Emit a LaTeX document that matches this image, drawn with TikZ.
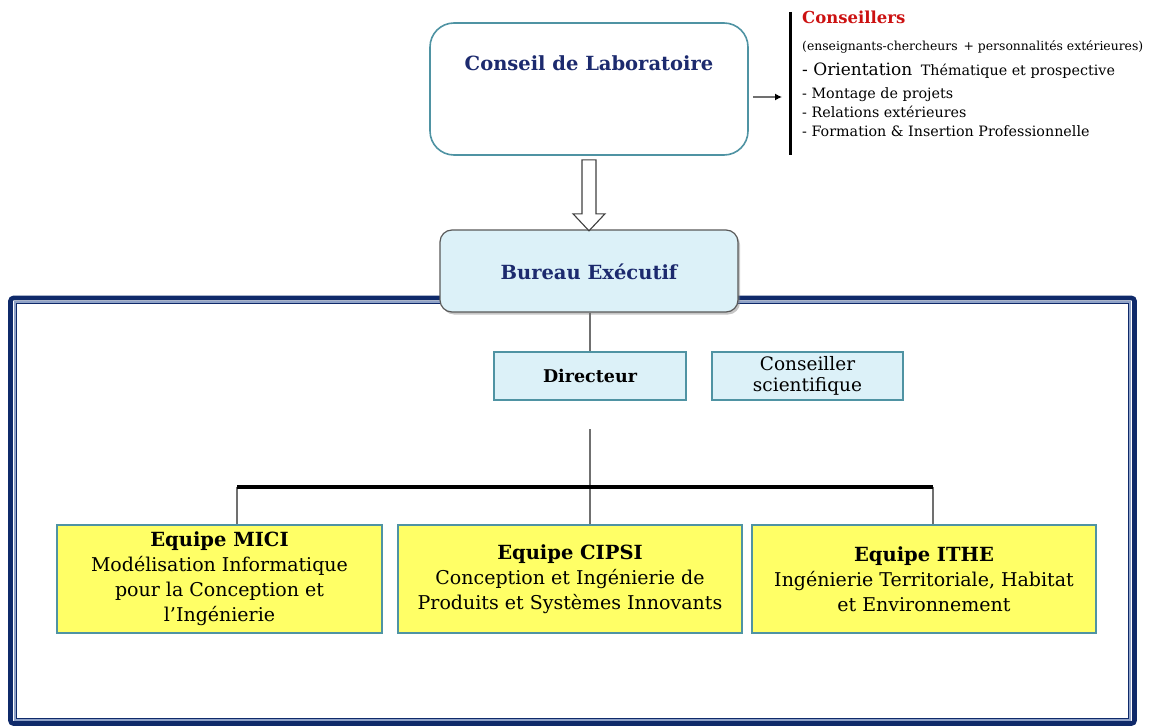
\documentclass[tikz,border=0pt]{standalone}
\usepackage{fontspec}
\setmainfont{DejaVu Serif}
\usetikzlibrary{shadows,arrows.meta,calc}

\definecolor{navytxt}{HTML}{1C2A6E}
\definecolor{framenavy}{HTML}{0F2A6A}
\definecolor{framelight}{HTML}{8FA2C8}
\definecolor{tealline}{HTML}{4F93A3}
\definecolor{paleblue}{HTML}{DCF1F8}
\definecolor{teamyellow}{HTML}{FFFF66}
\definecolor{linkgrey}{HTML}{707070}
\definecolor{redtitle}{HTML}{CC1111}

\tikzset{
  px/.style={x=1pt,y=-1pt},
  topbox/.style={draw=tealline, line width=1.6pt, rounded corners=24pt, fill=white,
    minimum width=318pt, minimum height=132pt, inner sep=0pt},
  bureaubox/.style={draw=black!65, line width=1.2pt, rounded corners=12pt, fill=paleblue,
    minimum width=298pt, minimum height=82pt, inner sep=0pt,
    drop shadow={shadow xshift=2pt, shadow yshift=-2.5pt, opacity=0.45}},
  rolebox/.style={draw=tealline, line width=1.3pt, fill=paleblue,
    minimum height=48pt, inner sep=0pt, align=center},
  teambox/.style={draw=tealline, line width=1.3pt, fill=teamyellow,
    minimum height=108pt, inner sep=0pt, align=center, font=\fontsize{19}{25}\selectfont},
  headtxt/.style={text=navytxt, font=\bfseries\fontsize{19.5}{22}\selectfont},
  link/.style={draw=linkgrey, line width=2.4pt},
  bar/.style={draw=black, line width=3.6pt},
  side/.style={anchor=base west, inner sep=0pt, font=\fontsize{14.3}{17}\selectfont},
}
\newcommand{\teamtitle}[1]{{\bfseries\fontsize{19.5}{25}\selectfont #1}}

\begin{document}
\begin{tikzpicture}[px]
\useasboundingbox (0,0) rectangle (1153,725);

% outer double frame around the laboratory units
\begin{scope}
\clip (0,0) rectangle (1153,725);
\draw[framenavy, line width=4.6pt, rounded corners=3pt] (10.5,298) rectangle (1134.5,723.5);
\draw[framelight, line width=1.6pt] (14.8,301.8) rectangle (1130.2,720);
\draw[framenavy, line width=0.9pt] (16.5,303.2) rectangle (1128.5,718.5);
\end{scope}

% council
\node[topbox] (conseil) at (589,89) {};
\node[headtxt] (conseiltxt) at (589,63) {Conseil de Laboratoire};

% advisers column
\coordinate (barTop) at (790,12);
\coordinate (barBot) at (790,155);
\draw[black, line width=3pt] (barTop) -- (barBot);
\coordinate (advIn) at (782,97);
\draw[draw=linkgrey, line width=1.2pt, -{Latex[length=7pt,width=7pt,color=black]}]
  (conseil.east |- advIn) ++(4,0) -- (advIn);
\node[side, text=redtitle, font=\bfseries\fontsize{16.5}{18}\selectfont] (advTitle) at (802,24) {Conseillers};
\node[side, font=\fontsize{12.4}{14}\selectfont] (advSub) at (802,51)
  {(enseignants-chercheurs \,+ personnalités extérieures)};
\node[side] (advA) at (802,75)
  {{\fontsize{17}{18}\selectfont - Orientation}\; Thématique et prospective};
\node[side] (advB) at (802,98) {- Montage de projets};
\node[side] (advC) at (802,117) {- Relations extérieures};
\node[side] (advD) at (802,136) {- Formation \& Insertion Professionnelle};

% executive board and the hollow arrow above it
\node[bureaubox] (bureau) at (589,271) {};
\node[headtxt] (bureautxt) at (589,272) {Bureau Exécutif};
\draw[black!75, line width=1.1pt, fill=white]
  ($(conseil.south)+(-7,4)$) -- ++(0,54) -- ++(-9,0) -- ++(16,17) -- ++(16,-17) -- ++(-9,0) -- ++(0,-54) -- cycle;

% direction
\node[rolebox, minimum width=192pt, font=\bfseries\fontsize{17.5}{20}\selectfont] (dir) at (590,376) {Directeur};
\node[rolebox, minimum width=191pt, font=\fontsize{18.5}{21.5}\selectfont] (cs) at (807.5,376) {Conseiller\\scientifique};
\draw[link] (bureau.south -| dir.north) -- (dir.north);

% teams
\node[teambox, minimum width=325pt] (mici) at (219.5,579)
  {\teamtitle{Equipe MICI}\\
   Modélisation Informatique\\
   pour la Conception et\\
   l’Ingénierie};
\node[teambox, minimum width=344pt] (cipsi) at (570,579)
  {\teamtitle{Equipe CIPSI}\\
   Conception et Ingénierie de\\
   Produits et Systèmes Innovants};
\node[teambox, minimum width=344pt] (ithe) at (924,579)
  {\teamtitle{Equipe ITHE}\\
   Ingénierie Territoriale, Habitat\\
   et Environnement};

% branching from the director to the teams
\coordinate (dirLink) at (590,429);
\coordinate (barL) at (237,487);
\coordinate (barM) at (590,487);
\coordinate (barR) at (933,487);
\draw[link] (dirLink) -- (barM);
\draw[link] (barL) -- (barL |- mici.north);
\draw[link] (barM) -- (barM |- cipsi.north);
\draw[link] (barR) -- (barR |- ithe.north);
\draw[bar, rounded corners=2pt] (barL) -- (barR);
\end{tikzpicture}
\end{document}
